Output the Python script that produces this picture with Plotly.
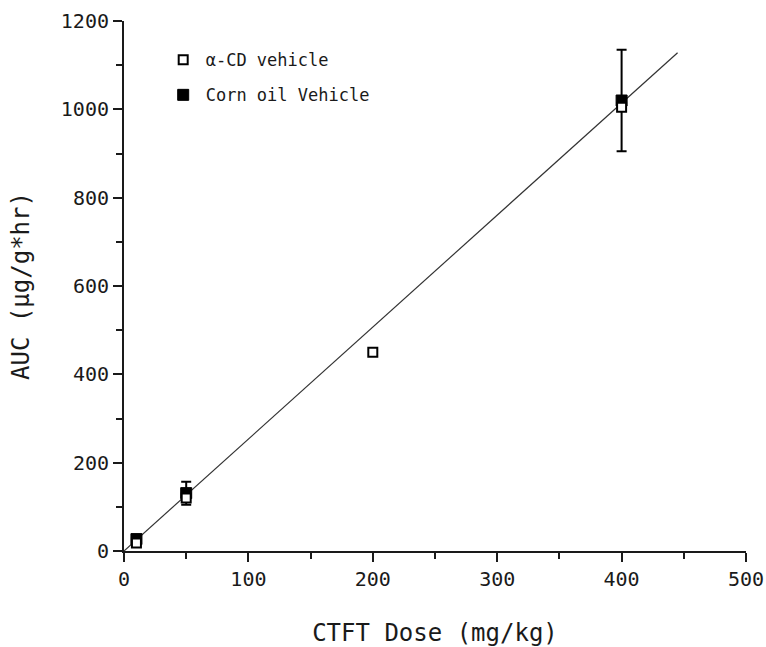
import plotly.graph_objects as go

# Data
dose_cd = [10, 50, 200, 400]
auc_cd = [18, 120, 450, 1005]

dose_oil = [10, 50, 400]
auc_oil = [27, 131, 1020]
err_oil = [0, 26, 115]

fit_x = [0, 445]
fit_y = [0, 1128]

x_ticks = [0, 100, 200, 300, 400, 500]
y_ticks = [0, 200, 400, 600, 800, 1000, 1200]

FONT = "DejaVu Sans Mono"
INK = "#1a1a1a"

fig = go.Figure()

fig.add_trace(go.Scatter(
    x=fit_x, y=fit_y, mode="lines",
    line=dict(color="#333333", width=1.2),
    showlegend=False, hoverinfo="skip",
))

fig.add_trace(go.Scatter(
    x=dose_oil, y=auc_oil, mode="markers", name="Corn oil Vehicle",
    legendgroup="oil", legendrank=2,
    marker=dict(symbol="square", size=11, color="black",
                line=dict(color="black", width=1)),
    error_y=dict(type="data", array=err_oil, visible=True,
                 color="black", thickness=2, width=5),
))

fig.add_trace(go.Scatter(
    x=dose_cd, y=auc_cd, mode="markers", name="α-CD vehicle",
    legendgroup="cd", legendrank=1,
    marker=dict(symbol="square", size=9, color="white",
                line=dict(color="black", width=2)),
))

axis_common = dict(
    showline=True, linecolor=INK, linewidth=2,
    ticks="outside", ticklen=9, tickwidth=2, tickcolor=INK,
    showgrid=False, zeroline=False, mirror=False, automargin=False,
    ticklabeloverflow="allow",
    tickfont=dict(family=FONT, size=20, color=INK),
)

fig.update_layout(
    width=766, height=647,
    margin=dict(l=124, r=20, t=21, b=96),
    paper_bgcolor="white", plot_bgcolor="white",
    font=dict(family=FONT, size=17, color=INK),
    xaxis=dict(
        range=[0, 500], tickvals=x_ticks,
        title=dict(text="CTFT Dose (mg/kg)", font=dict(family=FONT, size=24, color=INK), standoff=35),
        minor=dict(dtick=50, tick0=0, ticks="outside", ticklen=6, tickwidth=2, tickcolor=INK),
        **axis_common,
    ),
    yaxis=dict(
        range=[0, 1200], tickvals=y_ticks,
        title=dict(text="AUC (μg/g*hr)", font=dict(family=FONT, size=24, color=INK), standoff=24),
        minor=dict(dtick=100, tick0=0, ticks="outside", ticklen=6, tickwidth=2, tickcolor=INK),
        **axis_common,
    ),
    legend=dict(
        x=0.059, y=0.96, xanchor="left", yanchor="top",
        bgcolor="rgba(0,0,0,0)", borderwidth=0,
        font=dict(family=FONT, size=17, color=INK),
        tracegroupgap=10, itemwidth=35,
    ),
)

fig.write_html("out.html")
